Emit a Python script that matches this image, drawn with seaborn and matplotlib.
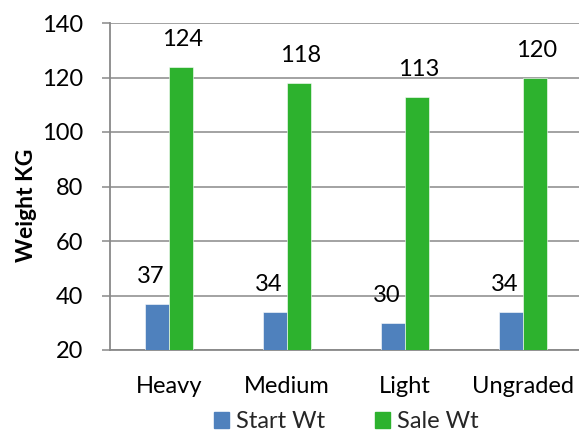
import matplotlib
matplotlib.use("Agg")
import matplotlib.pyplot as plt
import seaborn as sns
import pandas as pd

categories = ["Heavy", "Medium", "Light", "Ungraded"]
start_wt = [37, 34, 30, 34]
sale_wt = [124, 118, 113, 120]
series_names = ["Start Wt", "Sale Wt"]
y_ticks = [20, 40, 60, 80, 100, 120, 140]

colors = ["#4F81BD", "#2DB22E"]

df = pd.DataFrame({
    "Grade": categories * 2,
    "Weight": start_wt + sale_wt,
    "Series": [series_names[0]] * 4 + [series_names[1]] * 4,
})

sns.set_theme(style="white")
plt.rcParams["font.family"] = ["Lato", "DejaVu Sans"]

fig = plt.figure(figsize=(5.79, 4.34), dpi=100)
ax = fig.add_axes([110 / 579, 84 / 434, 472 / 579, 327 / 434])

sns.barplot(data=df, x="Grade", y="Weight", hue="Series", order=categories,
            hue_order=series_names, palette=colors, width=0.4, ax=ax,
            saturation=1, legend=False, edgecolor="white", linewidth=0.4,
            zorder=3)

ax.set_ylim(20, 140)
ax.set_yticks(y_ticks)
ax.set_xlim(-0.5, 3.5)
ax.grid(axis="y", color="#898989", linewidth=1.1, zorder=0)
ax.set_axisbelow(True)

for s in ["top", "right"]:
    ax.spines[s].set_visible(False)
for s in ["left", "bottom"]:
    ax.spines[s].set_color("#898989")
    ax.spines[s].set_linewidth(1.3)

ax.tick_params(axis="y", length=6, width=1.1, color="#898989", pad=13.5,
               labelsize=17, labelcolor="black", left=True)
ax.tick_params(axis="x", length=0, pad=19, labelsize=17, labelcolor="black")

ax.set_xlabel("")
ax.set_ylabel("Weight KG", fontsize=16.5, fontweight="bold", color="black")
ax.yaxis.set_label_coords(-0.155, 0.443)

# value labels above each bar
dx = [-5, 1.5]
for i, cont in enumerate(ax.containers):
    for bar in cont:
        val = bar.get_height()
        ax.annotate(f"{val:.0f}", (bar.get_x() + bar.get_width() / 2, val),
                    xytext=(dx[i], 19.5), textcoords="offset points",
                    ha="center", va="center", fontsize=17, color="black")

handles = [plt.Rectangle((0, 0), 1, 1, color=c) for c in colors]
fig.legend(handles, series_names, loc="center", bbox_to_anchor=(346 / 579, 0.028),
           ncol=2, frameon=False, fontsize=17, handlelength=0.64,
           handleheight=0.64, handletextpad=0.3, columnspacing=2.1)

fig.savefig("out.png", dpi=100)
